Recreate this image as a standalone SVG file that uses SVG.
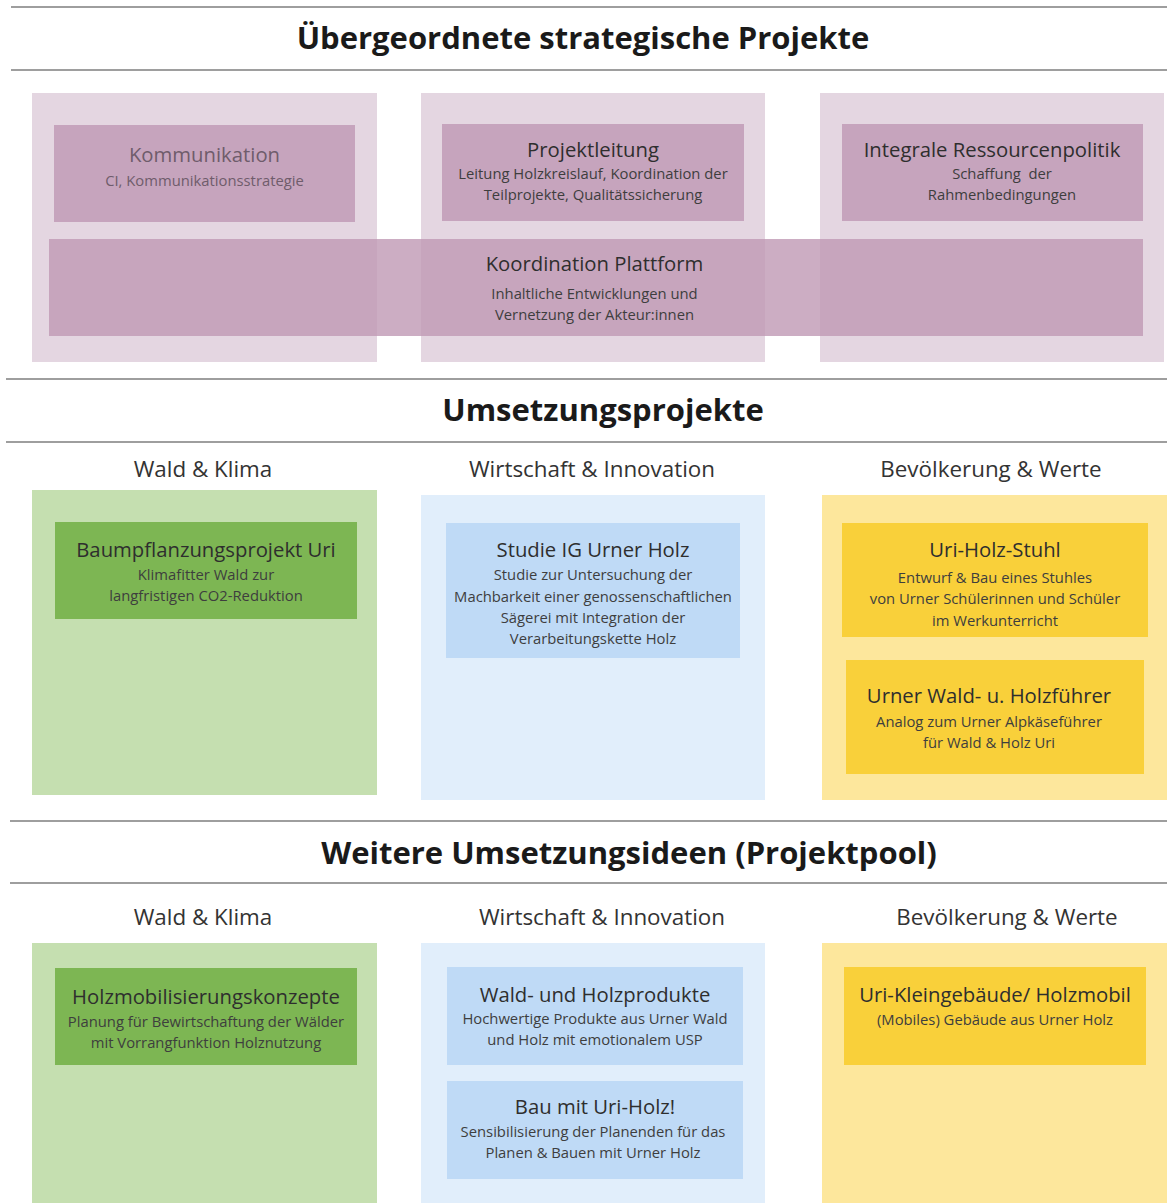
<svg xmlns="http://www.w3.org/2000/svg" width="1167" height="1203" viewBox="0 0 1167 1203">
<style>
text{font-family:"Open Sans","Noto Sans","Liberation Sans",sans-serif;text-anchor:middle}
.sec{font-size:31px;font-weight:700;fill:#1a1a1a}
.col{font-size:22.4px;fill:#333}
.t{font-size:20.3px;fill:#2e2e2e}
.s{font-size:14.8px;fill:#3e3e3e}
.rule{stroke:#9e9e9e;stroke-width:2}
.pO{fill:#e4d6e1}.pI{fill:#c6a4bd}
.gO{fill:#c5dfb0}.gI{fill:#7db653}
.bO{fill:#e1eefb}.bI{fill:#bfdaf6}
.yO{fill:#fde79c}.yI{fill:#f9d03a}
.faded{fill:#6f5c6b}
</style>
<rect width="1167" height="1203" fill="#fff"/>
<g id="rules">
<line class="rule" x1="11" y1="7" x2="1167" y2="7"/>
<line class="rule" x1="11" y1="70" x2="1167" y2="70"/>
<line class="rule" x1="6" y1="379" x2="1167" y2="379"/>
<line class="rule" x1="6" y1="442" x2="1167" y2="442"/>
<line class="rule" x1="10" y1="821" x2="1167" y2="821"/>
<line class="rule" x1="10" y1="883" x2="1167" y2="883"/>
</g>
<g id="headings">
<text class="sec" x="583" y="49">Übergeordnete strategische Projekte</text>
<text class="sec" x="603" y="421">Umsetzungsprojekte</text>
<text class="sec" x="629" y="864">Weitere Umsetzungsideen (Projektpool)</text>
<text class="col" x="203" y="477">Wald &amp; Klima</text>
<text class="col" x="592" y="477">Wirtschaft &amp; Innovation</text>
<text class="col" x="991" y="477">Bevölkerung &amp; Werte</text>
<text class="col" x="203" y="925">Wald &amp; Klima</text>
<text class="col" x="602" y="925">Wirtschaft &amp; Innovation</text>
<text class="col" x="1007" y="925">Bevölkerung &amp; Werte</text>
</g>
<g id="panels">
<rect class="pO" x="32" y="93" width="345" height="269"/>
<rect class="pO" x="421" y="93" width="344" height="269"/>
<rect class="pO" x="820" y="93" width="344" height="269"/>
<rect class="gO" x="32" y="490" width="345" height="305"/>
<rect class="bO" x="421" y="495" width="344" height="305"/>
<rect class="yO" x="822" y="495" width="345" height="305"/>
<rect class="gO" x="32" y="943" width="345" height="260"/>
<rect class="bO" x="421" y="943" width="344" height="260"/>
<rect class="yO" x="822" y="943" width="345" height="260"/>
</g>
<g id="kommunikation">
<rect class="pI" x="54" y="125" width="301" height="97"/>
<text class="t faded" x="204.5" y="162">Kommunikation</text>
<text class="s faded" x="204.5" y="186">CI, Kommunikationsstrategie</text>
</g>
<g id="projektleitung">
<rect class="pI" x="442" y="124" width="302" height="97"/>
<text class="t" x="593" y="157">Projektleitung</text>
<text class="s" x="593" y="179">Leitung Holzkreislauf, Koordination der</text>
<text class="s" x="593" y="200">Teilprojekte, Qualitätssicherung</text>
</g>
<g id="ressourcenpolitik">
<rect class="pI" x="842" y="124" width="301" height="97"/>
<text class="t" x="992" y="157">Integrale Ressourcenpolitik</text>
<text class="s" x="1002" y="179" xml:space="preserve">Schaffung  der</text>
<text class="s" x="1002" y="200">Rahmenbedingungen</text>
</g>
<g id="koordination">
<rect x="49" y="239" width="1094" height="97" fill="#bf98b4" fill-opacity="0.8"/>
<text class="t" x="594.5" y="271">Koordination Plattform</text>
<text class="s" x="594.5" y="299">Inhaltliche Entwicklungen und</text>
<text class="s" x="594.5" y="320">Vernetzung der Akteur:innen</text>
</g>
<g id="baumpflanzung">
<rect class="gI" x="55" y="522" width="302" height="97"/>
<text class="t" x="206" y="557">Baumpflanzungsprojekt Uri</text>
<text class="s" x="206" y="580">Klimafitter Wald zur</text>
<text class="s" x="206" y="601">langfristigen CO2-Reduktion</text>
</g>
<g id="studie">
<rect class="bI" x="446" y="523" width="294" height="135"/>
<text class="t" x="593" y="557">Studie IG Urner Holz</text>
<text class="s" x="593" y="580">Studie zur Untersuchung der</text>
<text class="s" x="593" y="602">Machbarkeit einer genossenschaftlichen</text>
<text class="s" x="593" y="623">Sägerei mit Integration der</text>
<text class="s" x="593" y="644">Verarbeitungskette Holz</text>
</g>
<g id="stuhl">
<rect class="yI" x="842" y="523" width="306" height="114"/>
<text class="t" x="995" y="557">Uri-Holz-Stuhl</text>
<text class="s" x="995" y="583">Entwurf &amp; Bau eines Stuhles</text>
<text class="s" x="995" y="604">von Urner Schülerinnen und Schüler</text>
<text class="s" x="995" y="626">im Werkunterricht</text>
</g>
<g id="holzfuehrer">
<rect class="yI" x="846" y="660" width="298" height="114"/>
<text class="t" x="989" y="703">Urner Wald- u. Holzführer</text>
<text class="s" x="989" y="727">Analog zum Urner Alpkäseführer</text>
<text class="s" x="989" y="748">für Wald &amp; Holz Uri</text>
</g>
<g id="holzmobilisierung">
<rect class="gI" x="55" y="968" width="302" height="97"/>
<text class="t" x="206" y="1004">Holzmobilisierungskonzepte</text>
<text class="s" x="206" y="1027">Planung für Bewirtschaftung der Wälder</text>
<text class="s" x="206" y="1048">mit Vorrangfunktion Holznutzung</text>
</g>
<g id="holzprodukte">
<rect class="bI" x="447" y="967" width="296" height="98"/>
<text class="t" x="595" y="1002">Wald- und Holzprodukte</text>
<text class="s" x="595" y="1024">Hochwertige Produkte aus Urner Wald</text>
<text class="s" x="595" y="1045">und Holz mit emotionalem USP</text>
</g>
<g id="bau">
<rect class="bI" x="447" y="1081" width="296" height="98"/>
<text class="t" x="595" y="1114">Bau mit Uri-Holz!</text>
<text class="s" x="593" y="1137">Sensibilisierung der Planenden für das</text>
<text class="s" x="593" y="1158">Planen &amp; Bauen mit Urner Holz</text>
</g>
<g id="kleingebaeude">
<rect class="yI" x="844" y="967" width="302" height="98"/>
<text class="t" x="995" y="1002">Uri-Kleingebäude/ Holzmobil</text>
<text class="s" x="995" y="1025">(Mobiles) Gebäude aus Urner Holz</text>
</g>
<g id="connectors"/>
</svg>
